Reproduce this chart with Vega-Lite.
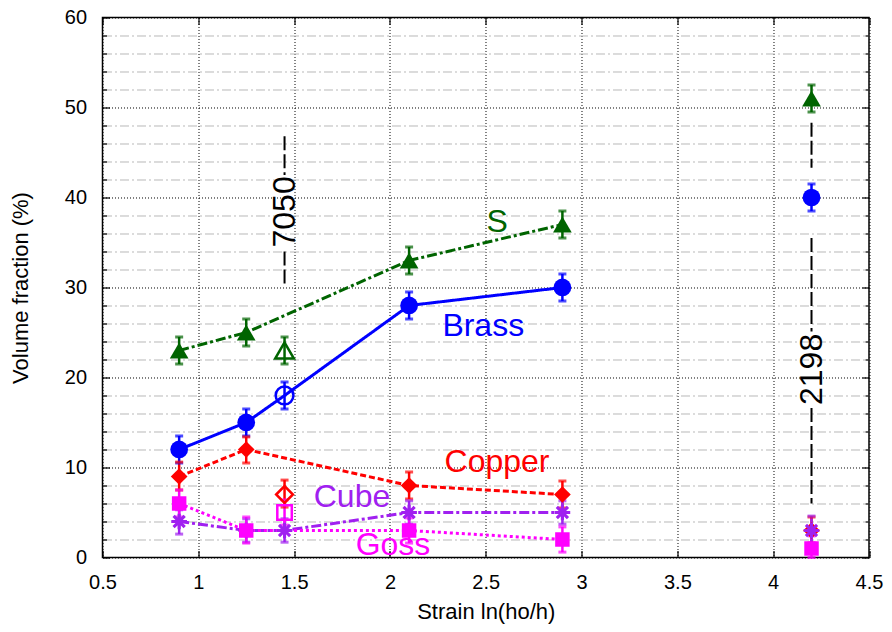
{
  "$schema": "https://vega.github.io/schema/vega-lite/v6.json",
  "width": 766.5,
  "height": 540,
  "autosize": "none",
  "padding": {"left": 102.5, "top": 17.5, "right": 23, "bottom": 74.3},
  "config": {
    "font": "Liberation Sans",
    "view": {"stroke": "black", "strokeWidth": 1.5},
    "axis": {"labelFont": "Liberation Sans", "titleFont": "Liberation Sans", "labelColor": "black", "titleColor": "black", "titleFontWeight": "normal", "tickColor": "black", "labelFlush": false, "labelOverlap": false}
  },
  "datasets": {
    "pts": [
      {"series": "S", "x": 0.9, "y": 23, "lo": 21.5, "hi": 24.5, "open": false, "line": true},
      {"series": "S", "x": 1.25, "y": 25, "lo": 23.5, "hi": 26.5, "open": false, "line": true},
      {"series": "S", "x": 1.45, "y": 23, "lo": 21.5, "hi": 24.5, "open": true, "line": false},
      {"series": "S", "x": 2.1, "y": 33, "lo": 31.5, "hi": 34.5, "open": false, "line": true},
      {"series": "S", "x": 2.9, "y": 37, "lo": 35.5, "hi": 38.5, "open": false, "line": true},
      {"series": "Brass", "x": 0.9, "y": 12, "lo": 10.5, "hi": 13.5, "open": false, "line": true},
      {"series": "Brass", "x": 1.25, "y": 15, "lo": 13.5, "hi": 16.5, "open": false, "line": true},
      {"series": "Brass", "x": 1.45, "y": 18, "lo": 16.5, "hi": 19.5, "open": true, "line": true},
      {"series": "Brass", "x": 2.1, "y": 28, "lo": 26.5, "hi": 29.5, "open": false, "line": true},
      {"series": "Brass", "x": 2.9, "y": 30, "lo": 28.5, "hi": 31.5, "open": false, "line": true},
      {"series": "Copper", "x": 0.9, "y": 9, "lo": 7.5, "hi": 10.6, "open": false, "line": true},
      {"series": "Copper", "x": 1.25, "y": 12, "lo": 10.5, "hi": 13.4, "open": false, "line": true},
      {"series": "Copper", "x": 1.45, "y": 7, "lo": 5.6, "hi": 8.6, "open": true, "line": false},
      {"series": "Copper", "x": 2.1, "y": 8, "lo": 6.5, "hi": 9.5, "open": false, "line": true},
      {"series": "Copper", "x": 2.9, "y": 7, "lo": 5.5, "hi": 8.5, "open": false, "line": true},
      {"series": "Cube", "x": 0.9, "y": 4, "lo": 2.6, "hi": 5.3, "open": false, "line": true},
      {"series": "Cube", "x": 1.25, "y": 3, "lo": 1.7, "hi": 4.3, "open": false, "line": true},
      {"series": "Cube", "x": 1.45, "y": 3, "lo": 1.7, "hi": 4.3, "open": false, "line": true},
      {"series": "Cube", "x": 2.1, "y": 5, "lo": 3.7, "hi": 6.3, "open": false, "line": true},
      {"series": "Cube", "x": 2.9, "y": 5, "lo": 3.7, "hi": 6.3, "open": false, "line": true},
      {"series": "Goss", "x": 0.9, "y": 6, "lo": 4.5, "hi": 7.5, "open": false, "line": true},
      {"series": "Goss", "x": 1.25, "y": 3, "lo": 1.6, "hi": 4.5, "open": false, "line": true},
      {"series": "Goss", "x": 1.45, "y": 5, "lo": 3.6, "hi": 6.4, "open": true, "line": false},
      {"series": "Goss", "x": 2.1, "y": 3, "lo": 1.6, "hi": 4.4, "open": false, "line": true},
      {"series": "Goss", "x": 2.9, "y": 2, "lo": 0.6, "hi": 3.4, "open": false, "line": true},
      {"series": "S", "x": 4.2, "y": 51, "lo": 49.5, "hi": 52.5, "open": false, "line": false},
      {"series": "Brass", "x": 4.2, "y": 40, "lo": 38.5, "hi": 41.5, "open": false, "line": false},
      {"series": "Copper", "x": 4.2, "y": 3, "lo": 1.6, "hi": 4.5, "open": false, "line": false},
      {"series": "Goss", "x": 4.2, "y": 1, "lo": 0, "hi": 2.4, "open": false, "line": false},
      {"series": "Cube", "x": 4.2, "y": 3, "lo": 1.6, "hi": 4.6, "open": false, "line": false}
    ],
    "labels": [
      {"text": "S", "series": "S", "x": 2.56, "y": 37.3},
      {"text": "Brass", "series": "Brass", "x": 2.487, "y": 25.7},
      {"text": "Copper", "series": "Copper", "x": 2.559, "y": 10.6},
      {"text": "Cube", "series": "Cube", "x": 1.802, "y": 6.74},
      {"text": "Goss", "series": "Goss", "x": 2.016, "y": 1.41}
    ],
    "notes": [
      {"text": "7050", "x": 1.45, "y": 38.4},
      {"text": "2198", "x": 4.2, "y": 20.9}
    ],
    "dashes": [
      {"x": 1.45, "y": 46.8, "y2": 42.5},
      {"x": 1.45, "y": 34.0, "y2": 30.1},
      {"x": 4.2, "y": 48.3, "y2": 43.3},
      {"x": 4.2, "y": 35.5, "y2": 25.1},
      {"x": 4.2, "y": 16.6, "y2": 6.0}
    ]
  },
  "resolve": {"axis": {"x": "independent", "y": "independent"}},
  "layer": [
    {
      "data": {"name": "pts"},
      "transform": [{"filter": "datum.line"}],
      "mark": {"type": "line", "strokeWidth": 3, "clip": true},
      "encoding": {
        "x": {"field": "x", "type": "quantitative",
          "scale": {"domain": [0.5, 4.5], "nice": false, "zero": false},
          "axis": {"orient": "bottom", "values": [0.5, 1, 1.5, 2, 2.5, 3, 3.5, 4, 4.5], "format": ".2~f",
            "title": "Strain ln(ho/h)", "titleFontSize": 22, "labelFontSize": 20, "titlePadding": 9,
            "labelPadding": 22, "domain": false, "grid": true, "gridColor": "black", "gridDash": [1, 2], "gridWidth": 1,
            "tickSize": -7, "tickWidth": 1.2}},
        "y": {"field": "y", "type": "quantitative",
          "scale": {"domain": [0, 60], "nice": false, "zero": false},
          "axis": {"orient": "left", "values": [0, 2, 4, 6, 8, 10, 12, 14, 16, 18, 20, 22, 24, 26, 28, 30, 32, 34, 36, 38, 40, 42, 44, 46, 48, 50, 52, 54, 56, 58, 60],
            "labelExpr": "datum.value % 10 === 0 ? datum.label : ''",
            "title": "Volume fraction (%)", "titleFontSize": 22, "labelFontSize": 20, "titlePadding": 32,
            "labelPadding": 23, "domain": false, "grid": true,
            "gridColor": {"condition": {"test": "datum.value % 10 === 0", "value": "black"}, "value": "#b8b8b8"},
            "gridDash": {"condition": {"test": "datum.value % 10 === 0", "value": [1, 2]}, "value": [9, 3, 2, 3]},
            "gridWidth": 1,
            "tickSize": {"condition": {"test": "datum.value % 10 === 0", "value": -7}, "value": -4},
            "tickWidth": 1.2}},
        "color": {"field": "series", "type": "nominal",
          "scale": {"domain": ["S", "Brass", "Copper", "Cube", "Goss"], "range": ["#006400", "#0000ff", "#ff0000", "#a020f0", "#ff00ff"]},
          "legend": null},
        "strokeDash": {"field": "series", "type": "nominal",
          "scale": {"domain": ["S", "Brass", "Copper", "Cube", "Goss"], "range": [[10, 3, 3, 3], [1, 0], [6, 3], [10, 3, 3, 3], [3, 3]]},
          "legend": null},
        "detail": {"field": "series"}
      }
    },
    {
      "data": {"name": "pts"},
      "mark": {"type": "rule", "strokeWidth": 2.5},
      "encoding": {
        "x": {"field": "x", "type": "quantitative", "axis": null},
        "y": {"field": "lo", "type": "quantitative", "axis": null},
        "y2": {"field": "hi"},
        "color": {"field": "series", "type": "nominal", "legend": null}
      }
    },
    {
      "data": {"name": "pts"},
      "mark": {"type": "tick", "orient": "horizontal", "size": 8, "thickness": 3},
      "encoding": {
        "x": {"field": "x", "type": "quantitative", "axis": null},
        "y": {"field": "lo", "type": "quantitative", "axis": null},
        "color": {"field": "series", "type": "nominal", "legend": null}
      }
    },
    {
      "data": {"name": "pts"},
      "mark": {"type": "tick", "orient": "horizontal", "size": 8, "thickness": 3},
      "encoding": {
        "x": {"field": "x", "type": "quantitative", "axis": null},
        "y": {"field": "hi", "type": "quantitative", "axis": null},
        "color": {"field": "series", "type": "nominal", "legend": null}
      }
    },
    {
      "data": {"name": "pts"},
      "transform": [{"filter": "!datum.open"}],
      "mark": {"type": "point", "filled": true, "opacity": 1, "strokeWidth": 1},
      "encoding": {
        "x": {"field": "x", "type": "quantitative", "axis": null},
        "y": {"field": "y", "type": "quantitative", "axis": null},
        "color": {"field": "series", "type": "nominal", "legend": null},
        "shape": {"field": "series", "type": "nominal",
          "scale": {"domain": ["S", "Brass", "Copper", "Cube", "Goss"],
            "range": ["triangle-up", "circle", "diamond", "M-1,-0.2H1V0.2H-1ZM-0.2,-1H0.2V1H-0.2ZM-0.569,-0.851L0.851,0.569L0.569,0.851L-0.851,-0.569ZM-0.851,0.569L0.569,-0.851L0.851,-0.569L-0.569,0.851Z", "square"]},
          "legend": null},
        "size": {"field": "series", "type": "nominal",
          "scale": {"domain": ["S", "Brass", "Copper", "Cube", "Goss"], "range": [350, 210, 320, 330, 270]},
          "legend": null}
      }
    },
    {
      "data": {"name": "pts"},
      "transform": [{"filter": "datum.open"}],
      "mark": {"type": "point", "filled": false, "strokeWidth": 2.5, "opacity": 1},
      "encoding": {
        "x": {"field": "x", "type": "quantitative", "axis": null},
        "y": {"field": "y", "type": "quantitative", "axis": null},
        "color": {"field": "series", "type": "nominal", "legend": null},
        "shape": {"field": "series", "type": "nominal",
          "scale": {"domain": ["S", "Brass", "Copper", "Cube", "Goss"],
            "range": ["triangle-up", "circle", "diamond", "M-1,0L1,0M0,-1L0,1M-0.7,-0.7L0.7,0.7M-0.7,0.7L0.7,-0.7", "square"]},
          "legend": null},
        "size": {"field": "series", "type": "nominal",
          "scale": {"domain": ["S", "Brass", "Copper", "Cube", "Goss"], "range": [300, 190, 280, 330, 240]},
          "legend": null}
      }
    },
    {
      "data": {"name": "dashes"},
      "mark": {"type": "rule", "color": "black", "strokeWidth": 2, "strokeDash": [14, 4]},
      "encoding": {
        "x": {"field": "x", "type": "quantitative", "axis": null},
        "y": {"field": "y", "type": "quantitative", "axis": null},
        "y2": {"field": "y2"}
      }
    },
    {
      "data": {"name": "notes"},
      "mark": {"type": "text", "fontSize": 32, "angle": 270, "align": "center", "baseline": "middle", "color": "black"},
      "encoding": {
        "x": {"field": "x", "type": "quantitative", "axis": null},
        "y": {"field": "y", "type": "quantitative", "axis": null},
        "text": {"field": "text"}
      }
    },
    {
      "data": {"name": "labels"},
      "mark": {"type": "text", "fontSize": 32, "align": "center", "baseline": "middle"},
      "encoding": {
        "x": {"field": "x", "type": "quantitative",
          "axis": {"orient": "top", "values": [0.5, 1, 1.5, 2, 2.5, 3, 3.5, 4, 4.5], "labels": false, "title": null, "domain": false, "grid": false, "tickSize": -7, "tickWidth": 1.2}},
        "y": {"field": "y", "type": "quantitative",
          "axis": {"orient": "right", "values": [0, 2, 4, 6, 8, 10, 12, 14, 16, 18, 20, 22, 24, 26, 28, 30, 32, 34, 36, 38, 40, 42, 44, 46, 48, 50, 52, 54, 56, 58, 60],
            "labels": false, "title": null, "domain": false, "grid": false,
            "tickSize": {"condition": {"test": "datum.value % 10 === 0", "value": -7}, "value": -4}, "tickWidth": 1.2}},
        "text": {"field": "text"},
        "color": {"field": "series", "type": "nominal", "legend": null}
      }
    }
  ]
}
